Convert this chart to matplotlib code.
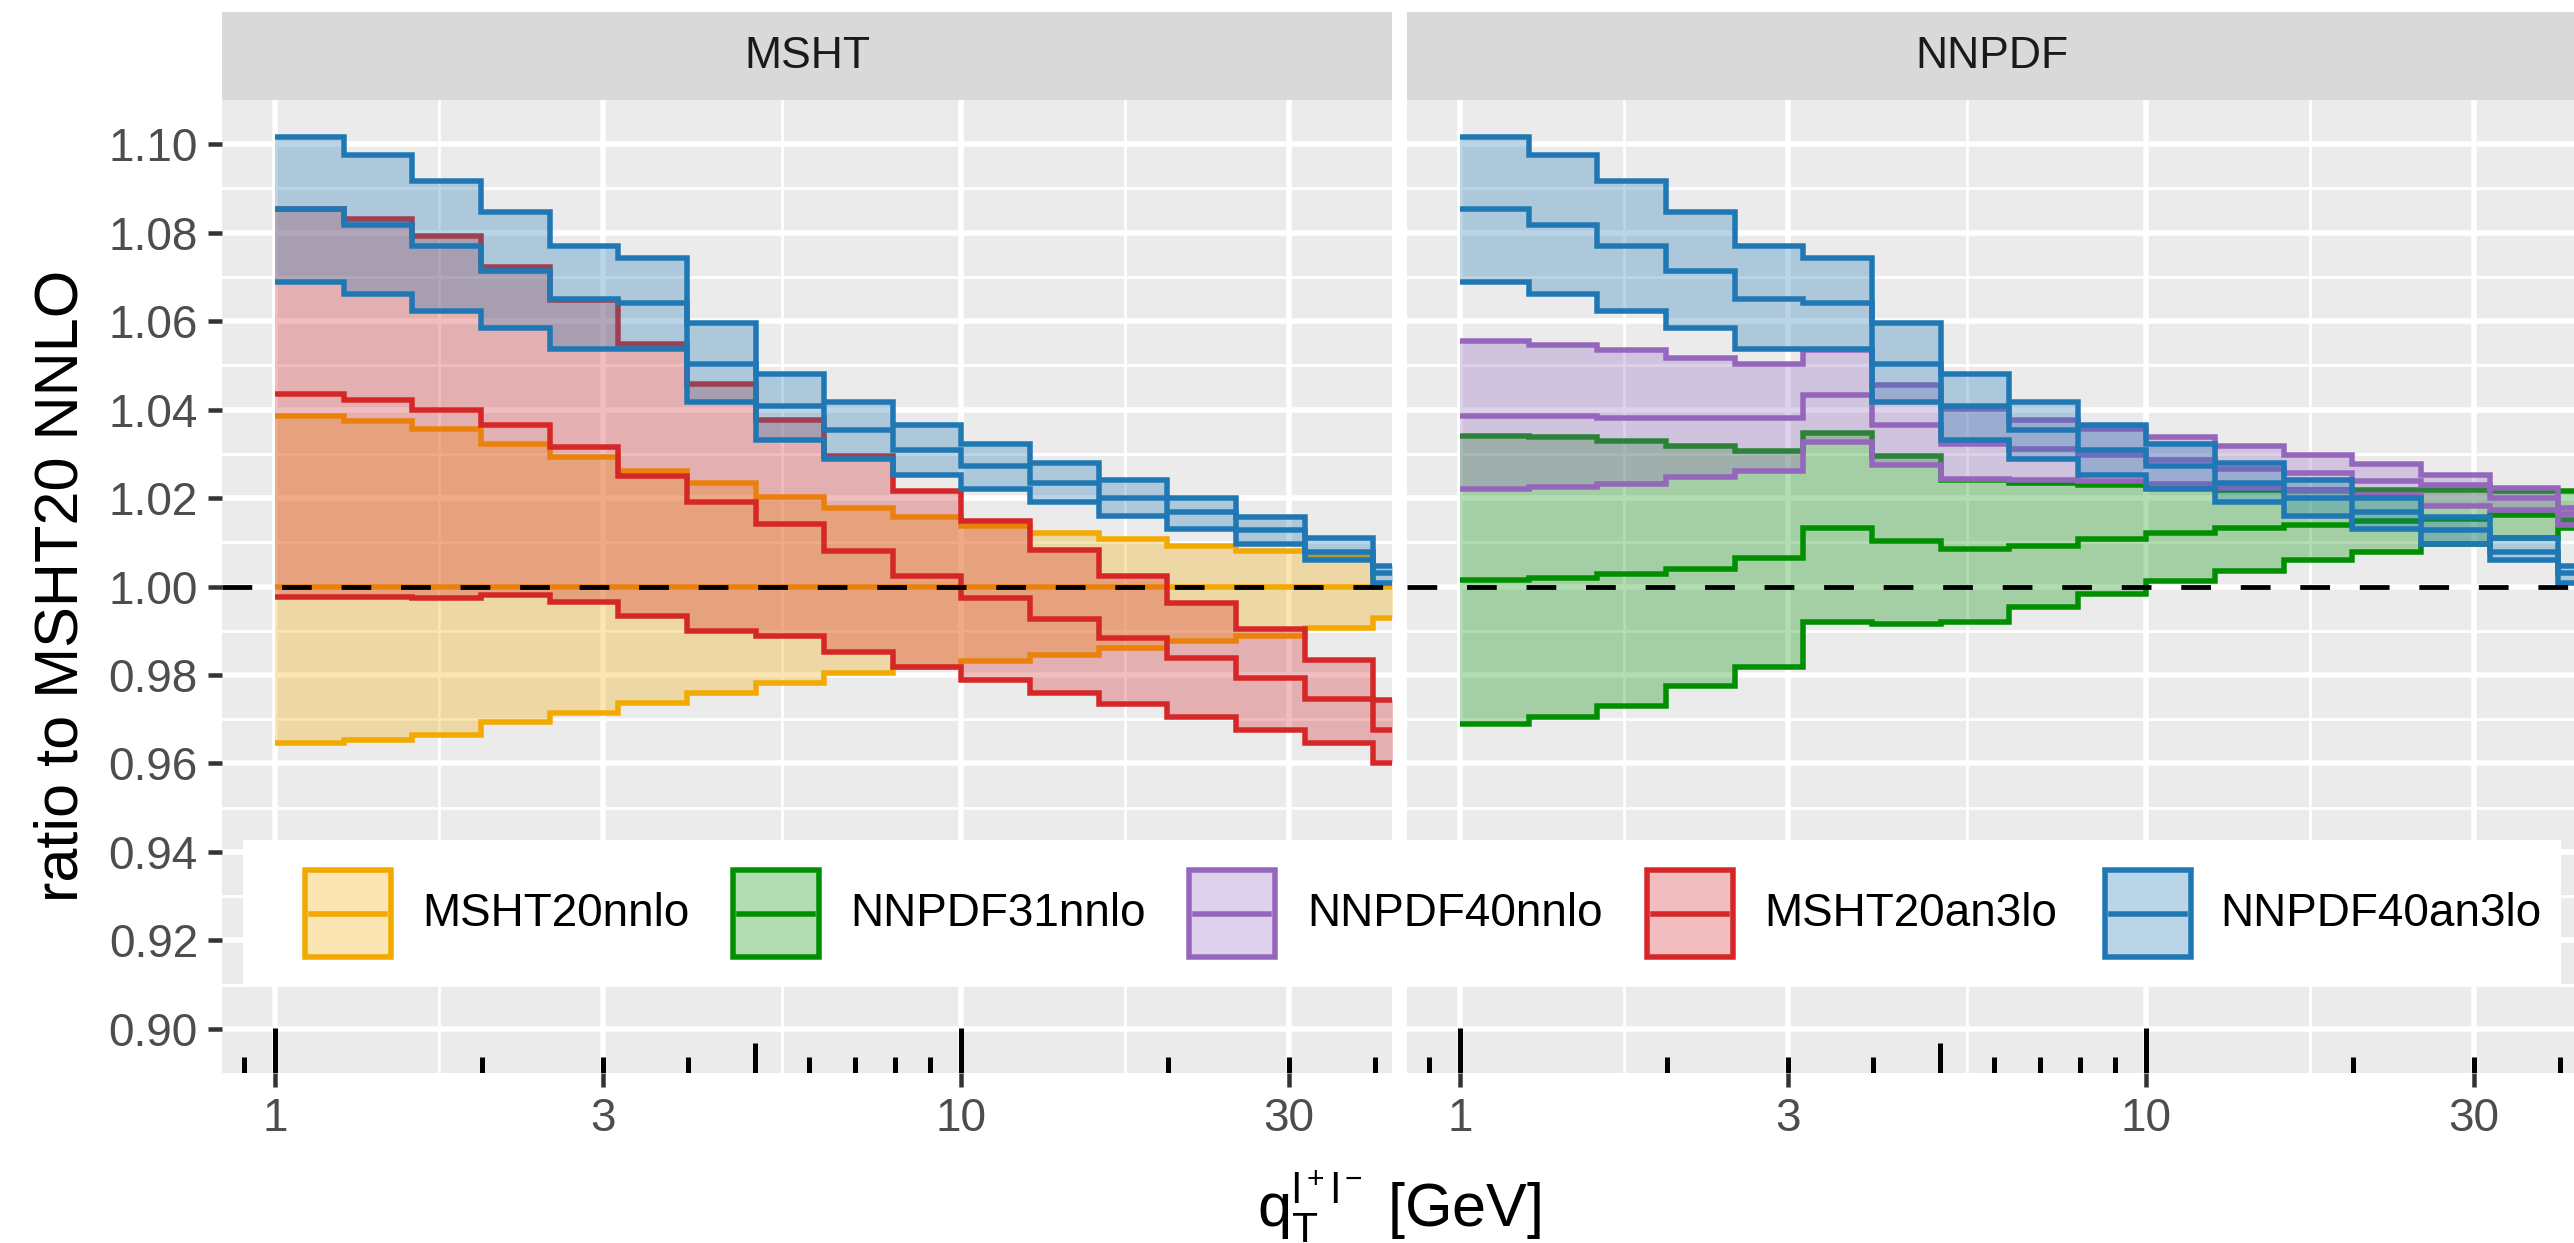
import numpy as np
import matplotlib.pyplot as plt
from matplotlib.patches import Rectangle
from matplotlib.ticker import FixedLocator, NullFormatter

plt.rcParams['font.family'] = ['Liberation Sans', 'DejaVu Sans']
plt.rcParams['mathtext.fontset'] = 'custom'
plt.rcParams['mathtext.rm'] = 'Liberation Sans'
plt.rcParams['mathtext.it'] = 'Liberation Sans:italic'

W, H, DPI = 2574, 1243, 200
PX = 72 / DPI  # points per pixel

# qT bin edges [GeV]
edges = [1.0, 1.259, 1.585, 1.995, 2.512, 3.162, 3.981, 5.012, 6.310, 7.943,
         10.0, 12.59, 15.85, 19.95, 25.12, 31.62, 39.81, 50.12]

# ratio to MSHT20 NNLO: upper edge, central value, lower edge per bin
msht20nnlo_hi = [1.0385, 1.0374, 1.0357, 1.0323, 1.0293, 1.0261, 1.0233, 1.0202, 1.0177,
                 1.0158, 1.0137, 1.0121, 1.0107, 1.0092, 1.0081, 1.0068, 1.0005]
msht20nnlo_mid = [1.0] * 17
msht20nnlo_lo = [0.9647, 0.9653, 0.9665, 0.9693, 0.9714, 0.9736, 0.9759, 0.9781, 0.9804,
                 0.9819, 0.9832, 0.9846, 0.9861, 0.9876, 0.9888, 0.9906, 0.9928]

nnpdf31nnlo_hi = [1.0341, 1.0337, 1.0328, 1.0317, 1.0307, 1.0348, 1.0294, 1.0241, 1.0235,
                  1.0230, 1.0225, 1.0219, 1.0219, 1.0219, 1.0219, 1.0216, 1.0217]
nnpdf31nnlo_mid = [1.0014, 1.0020, 1.0028, 1.0039, 1.0064, 1.0133, 1.0103, 1.0084, 1.0092,
                   1.0107, 1.0120, 1.0132, 1.0139, 1.0149, 1.0152, 1.0162, 1.0150]
nnpdf31nnlo_lo = [0.9689, 0.9706, 0.9729, 0.9774, 0.9819, 0.9919, 0.9916, 0.9919, 0.9953,
                  0.9984, 1.0013, 1.0036, 1.0060, 1.0079, 1.0095, 1.0110, 1.0132]

nnpdf40nnlo_hi = [1.0554, 1.0547, 1.0534, 1.0517, 1.0502, 1.0534, 1.0455, 1.0402, 1.0376,
                  1.0357, 1.0338, 1.0317, 1.0298, 1.0276, 1.0252, 1.0222, 1.0178]
nnpdf40nnlo_mid = [1.0386, 1.0385, 1.0382, 1.0382, 1.0382, 1.0432, 1.0365, 1.0323, 1.0311,
                   1.0298, 1.0285, 1.0266, 1.0256, 1.0238, 1.0230, 1.0200, 1.0165]
nnpdf40nnlo_lo = [1.0220, 1.0226, 1.0232, 1.0248, 1.0262, 1.0327, 1.0274, 1.0244, 1.0241,
                  1.0239, 1.0232, 1.0222, 1.0217, 1.0207, 1.0181, 1.0172, 1.0140]

msht20an3lo_hi = [1.0853, 1.0830, 1.0792, 1.0722, 1.0647, 1.0549, 1.0457, 1.0377, 1.0295,
                  1.0217, 1.0147, 1.0083, 1.0024, 0.9962, 0.9904, 0.9834, 0.9744]
msht20an3lo_mid = [1.0435, 1.0421, 1.0398, 1.0366, 1.0316, 1.0250, 1.0190, 1.0142, 1.0080,
                   1.0024, 0.9974, 0.9927, 0.9883, 0.9839, 0.9794, 0.9745, 0.9676]
msht20an3lo_lo = [0.9976, 0.9976, 0.9973, 0.9980, 0.9964, 0.9934, 0.9900, 0.9887, 0.9853,
                  0.9818, 0.9789, 0.9759, 0.9734, 0.9706, 0.9676, 0.9646, 0.9601]

nnpdf40an3lo_hi = [1.1017, 1.0975, 1.0917, 1.0846, 1.0769, 1.0743, 1.0595, 1.0481, 1.0417,
                   1.0366, 1.0323, 1.0279, 1.0240, 1.0200, 1.0157, 1.0110, 1.0047]
nnpdf40an3lo_mid = [1.0853, 1.0818, 1.0771, 1.0714, 1.0650, 1.0641, 1.0504, 1.0408, 1.0353,
                    1.0308, 1.0273, 1.0234, 1.0199, 1.0168, 1.0128, 1.0078, 1.0031]
nnpdf40an3lo_lo = [1.0689, 1.0662, 1.0623, 1.0584, 1.0537, 1.0537, 1.0417, 1.0331, 1.0289,
                   1.0252, 1.0220, 1.0191, 1.0159, 1.0131, 1.0096, 1.0059, 1.0009]

series = {
    'MSHT20nnlo': (msht20nnlo_lo, msht20nnlo_mid, msht20nnlo_hi, '#F2A900'),
    'NNPDF31nnlo': (nnpdf31nnlo_lo, nnpdf31nnlo_mid, nnpdf31nnlo_hi, '#008F00'),
    'NNPDF40nnlo': (nnpdf40nnlo_lo, nnpdf40nnlo_mid, nnpdf40nnlo_hi, '#9467BD'),
    'MSHT20an3lo': (msht20an3lo_lo, msht20an3lo_mid, msht20an3lo_hi, '#D62728'),
    'NNPDF40an3lo': (nnpdf40an3lo_lo, nnpdf40an3lo_mid, nnpdf40an3lo_hi, '#1F77B4'),
}
panels = {
    'MSHT': ['MSHT20nnlo', 'MSHT20an3lo', 'NNPDF40an3lo'],
    'NNPDF': ['NNPDF31nnlo', 'NNPDF40nnlo', 'NNPDF40an3lo'],
}

x_breaks = [1, 3, 10, 30]
x_labels = ['1', '3', '10', '30']
x_minor = [1.732, 5.477, 17.32]
y_breaks = [0.90, 0.92, 0.94, 0.96, 0.98, 1.00, 1.02, 1.04, 1.06, 1.08, 1.10]
y_minor = [0.91, 0.93, 0.95, 0.97, 0.99, 1.01, 1.03, 1.05, 1.07, 1.09]
logtick_pos = [0.9, 1, 2, 3, 4, 5, 6, 7, 8, 9, 10, 20, 30, 40]

LW = 5.5 * PX  # step line width


def box(x0, y0, x1, y1):
    return [x0 / W, 1 - y1 / H, (x1 - x0) / W, (y1 - y0) / H]


fig = plt.figure(figsize=(W / DPI, H / DPI), dpi=DPI)
panel_px = [(222, 100, 1392, 1073), (1407, 100, 2577, 1073)]

for i, (name, members) in enumerate(panels.items()):
    x0, y0, x1, y1 = panel_px[i]
    ax = fig.add_axes(box(x0, y0, x1, y1))
    ax.set_facecolor('#EBEBEB')
    ax.set_xscale('log')
    ax.set_xlim(0.8367, 42.4)
    ax.set_ylim(0.89, 1.11)
    ax.xaxis.set_major_locator(FixedLocator(x_breaks))
    ax.xaxis.set_minor_locator(FixedLocator(x_minor))
    ax.xaxis.set_minor_formatter(NullFormatter())
    ax.set_xticklabels(x_labels)
    ax.yaxis.set_major_locator(FixedLocator(y_breaks))
    ax.yaxis.set_minor_locator(FixedLocator(y_minor))
    ax.set_yticklabels(['%.2f' % v for v in y_breaks])
    ax.grid(which='major', color='white', lw=5.5 * PX)
    ax.grid(which='minor', color='white', lw=2.8 * PX)
    ax.set_axisbelow(True)
    for s in ax.spines.values():
        s.set_visible(False)
    ax.tick_params(which='major', length=14 * PX, width=4.5 * PX, color='#333333',
                   labelcolor='#4D4D4D', labelsize=16.5, pad=10 * PX)
    ax.tick_params(which='minor', length=0)
    if i == 1:
        ax.tick_params(axis='y', which='both', left=False, labelleft=False)

    for key in members:
        lo, mid, hi, c = series[key]
        ax.fill_between(edges, lo + [lo[-1]], hi + [hi[-1]], step='post',
                        color=c, alpha=0.3, lw=0)
        for v in (hi, mid, lo):
            ax.stairs(v, edges, baseline=None, color=c, lw=LW)

    ax.axhline(1.0, color='black', lw=4.8 * PX, ls=(0, (6.2, 6.2)), zorder=10)

    # log ticks along the bottom
    lens = [0.0462 if p in (1, 10) else 0.0308 if p == 5 else 0.0160 for p in logtick_pos]
    ax.vlines(logtick_pos, 0, lens, transform=ax.get_xaxis_transform(),
              colors='black', lw=5 * PX, zorder=11)

    # facet strip
    sx = fig.add_axes(box(x0, 12, x1, 100))
    sx.set_facecolor('#D9D9D9')
    sx.set_xticks([])
    sx.set_yticks([])
    for s in sx.spines.values():
        s.set_visible(False)
    sx.text(0.5, 0.5, name, ha='center', va='center', fontsize=16, color='#1A1A1A')

fig.text(62 / W, 1 - 586 / H, 'ratio to MSHT20 NNLO', rotation=90, ha='center',
         va='center', fontsize=22)
fig.text(1399 / W, 1 - 1207 / H, r'$\mathregular{q_T^{l^+l^-}}$ [GeV]', ha='center',
         va='center', fontsize=22)

# legend inside the plot area
lg = fig.add_axes(box(243, 840, 2561, 985))
lg.set_xlim(243, 2561)
lg.set_ylim(985, 840)
lg.set_facecolor('white')
lg.set_xticks([])
lg.set_yticks([])
for s in lg.spines.values():
    s.set_visible(False)
key_x = [305, 733, 1189, 1647, 2105]
text_x = [422, 850, 1307, 1764, 2220]
for k, key in enumerate(series):
    c = series[key][3]
    lg.add_patch(Rectangle((key_x[k], 870), 86, 87, facecolor=c, alpha=0.3, lw=0))
    lg.add_patch(Rectangle((key_x[k], 870), 86, 87, facecolor='none', edgecolor=c,
                           lw=LW))
    lg.plot([key_x[k] + 6, key_x[k] + 80], [913.5, 913.5], color=c, lw=LW)
    lg.text(text_x[k], 913.5, key, ha='left', va='center', fontsize=16.5, color='black')

fig.savefig('out.png', dpi=DPI)
